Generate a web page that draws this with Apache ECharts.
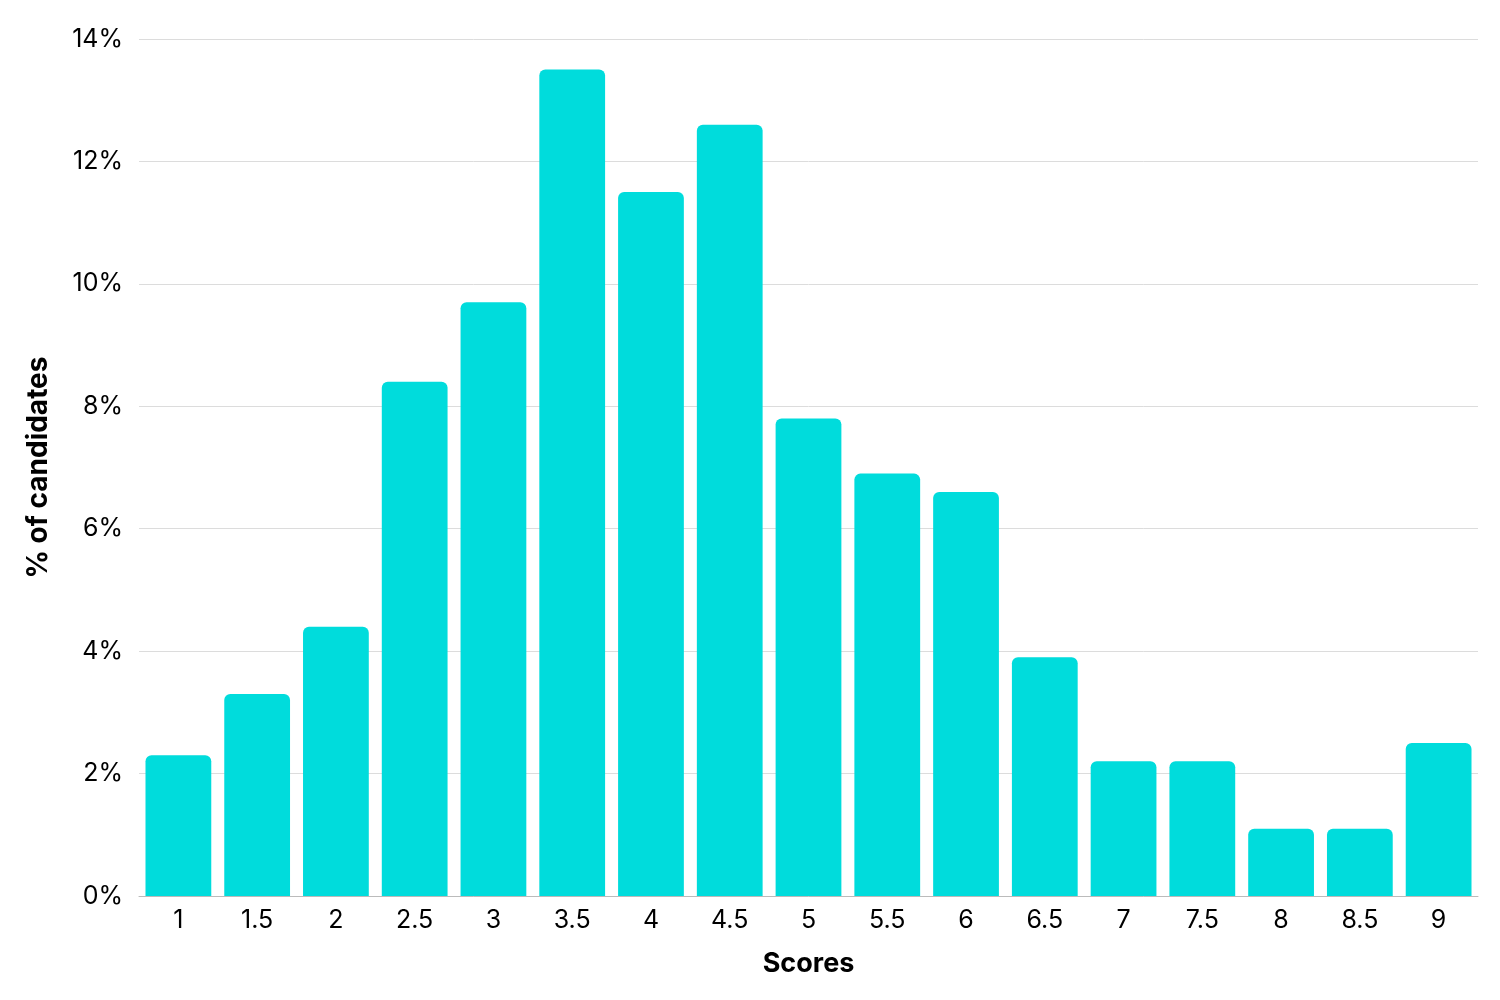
<!DOCTYPE html>
<html>
<head>
<meta charset="utf-8">
<script src="https://cdn.jsdelivr.net/npm/echarts@6/dist/echarts.min.js"></script>
<style>
  html, body { margin: 0; padding: 0; background: #fff; }
  #chart { width: 1500px; height: 1000px; }
</style>
</head>
<body>
<div id="chart"></div>
<script>
// Score buckets and share of candidates (%)
const scores = ['1', '1.5', '2', '2.5', '3', '3.5', '4', '4.5', '5', '5.5', '6', '6.5', '7', '7.5', '8', '8.5', '9'];
const percentCandidates = [2.3, 3.3, 4.4, 8.4, 9.7, 13.5, 11.5, 12.6, 7.8, 6.9, 6.6, 3.9, 2.2, 2.2, 1.1, 1.1, 2.5];

const chart = echarts.init(document.getElementById('chart'));

const font = 'Inter, "Noto Sans", sans-serif';

const option = {
    animation: false,
    grid: {
        left: 139,
        right: 22,
        top: 39,
        bottom: 104,
    },
    xAxis: {
        type: 'category',
        data: scores,
        name: 'Scores',
        nameLocation: 'middle',
        nameGap: 54,
        nameTextStyle: { fontFamily: font, fontSize: 27, fontWeight: 'bold', color: '#000' },
        axisTick: { show: false },
        axisLine: { lineStyle: { color: '#bbb', width: 1 } },
        axisLabel: { fontFamily: font, fontSize: 25, color: '#000', margin: 12 },
    },
    yAxis: {
        type: 'value',
        min: 0,
        max: 14,
        interval: 2,
        name: '% of candidates',
        nameLocation: 'middle',
        nameGap: 86,
        nameRotate: 90,
        nameTextStyle: { fontFamily: font, fontSize: 28, fontWeight: 'bold', color: '#000' },
        axisLabel: { fontFamily: font, fontSize: 25, color: '#000', margin: 16, formatter: '{value}%' },
        splitLine: { lineStyle: { color: '#dcdcdc', width: 1 } },
    },
    series: [
        {
            type: 'bar',
            data: percentCandidates,
            barCategoryGap: '16.5%',
            itemStyle: {
                color: '#00dcdc',
                borderRadius: [6, 6, 0, 0],
            },
        },
    ],
};

chart.setOption(option);
</script>
</body>
</html>
